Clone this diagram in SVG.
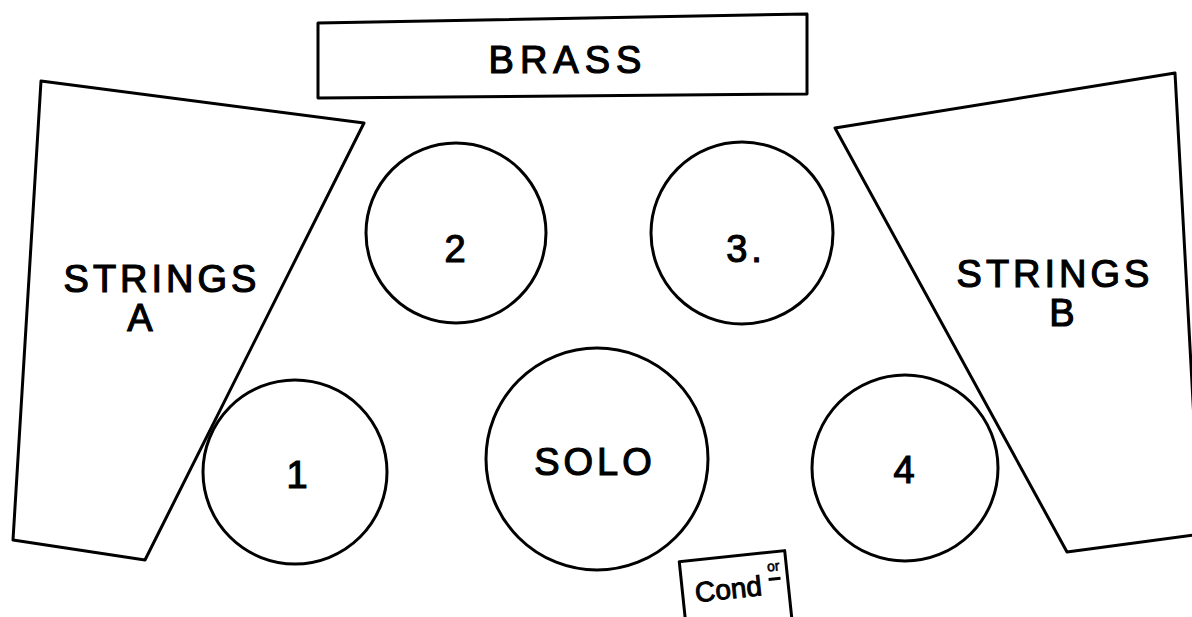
<svg xmlns="http://www.w3.org/2000/svg" width="1192" height="617" viewBox="0 0 1192 617">
<style>
.s{fill:none;stroke:#000;stroke-width:3;stroke-linejoin:round}
.t{font-family:"Liberation Sans",Arial,sans-serif;fill:#000;stroke:#000;stroke-width:1.2;text-anchor:middle}
.big{font-size:38px;letter-spacing:4px}
</style>
<rect width="1192" height="617" fill="#fff"/>
<g id="brass">
<path class="s" d="M318,23 L807,14 L807,94 L318,98 Z"/>
<text class="t big" x="568" y="73" style="letter-spacing:6px">BRASS</text>
</g>
<g id="strings-a">
<path class="s" d="M41,81 L364,123 L145,560 L13,540 Z"/>
<text class="t big" x="162" y="292">STRINGS</text>
<text class="t big" x="142" y="331">A</text>
</g>
<g id="strings-b">
<path class="s" d="M835,128 L1175,73 L1194,420 L1194,535 L1067,552 Z"/>
<text class="t big" x="1055" y="287">STRINGS</text>
<text class="t big" x="1064" y="326">B</text>
</g>
<g id="group-2">
<circle class="s" cx="456" cy="233" r="90"/>
<text class="t big" x="457" y="262">2</text>
</g>
<g id="group-3">
<circle class="s" cx="742" cy="233" r="91"/>
<text class="t big" x="746" y="262">3.</text>
</g>
<g id="group-1">
<circle class="s" cx="295" cy="472" r="92"/>
<text class="t big" x="299" y="488">1</text>
</g>
<g id="solo">
<circle class="s" cx="597" cy="459" r="111"/>
<text class="t big" x="595" y="475">SOLO</text>
</g>
<g id="group-4">
<circle class="s" cx="905" cy="468" r="93"/>
<text class="t big" x="906" y="483">4</text>
</g>
<g id="conductor" transform="rotate(-6 735 585)">
<path class="s" d="M682,556 L788,556 L788,625 L682,625 Z"/>
<text class="t" x="728" y="598" style="font-size:28px;stroke-width:1">Cond</text>
<text class="t" x="775" y="575" style="font-size:14px;stroke-width:0.6">or</text>
<line x1="769" y1="583" x2="781" y2="583" stroke="#000" stroke-width="3"/>
</g>
</svg>
